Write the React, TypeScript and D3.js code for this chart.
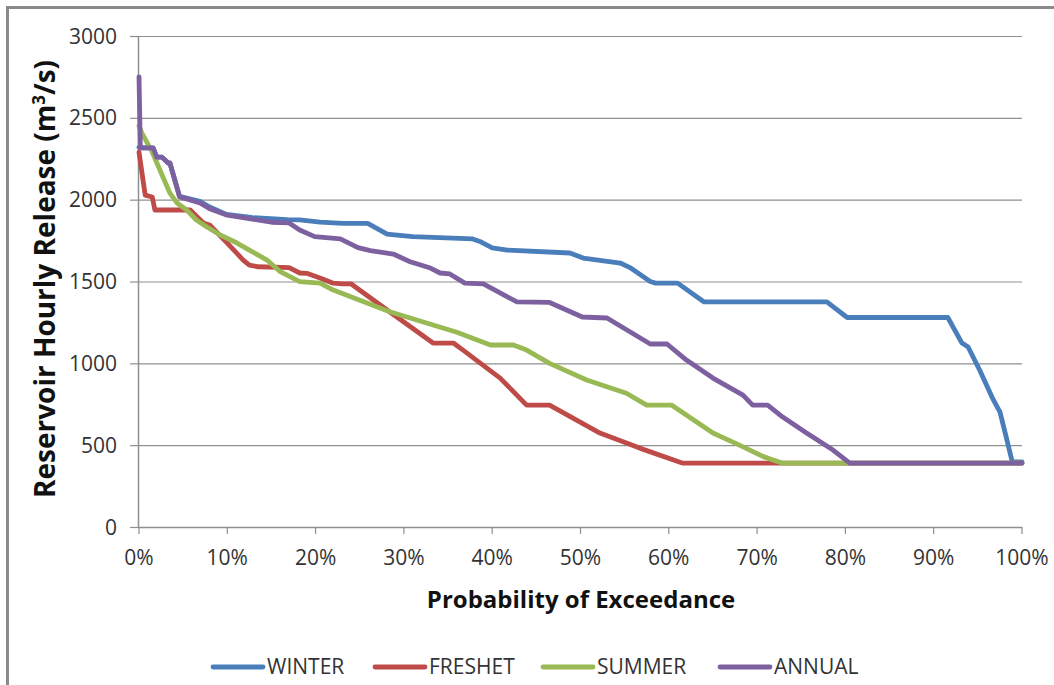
import React from "react";
import * as d3 from "d3";

const yTicks = [0, 500, 1000, 1500, 2000, 2500, 3000];
const xTicks = [0, 10, 20, 30, 40, 50, 60, 70, 80, 90, 100];

const winterP = [0, 0.2, 1.6, 2.0, 2.6, 3.3, 3.5, 4.6, 5.4, 6.9, 8.0, 9.9, 12.9, 16.8, 18.2, 20.5, 23.1, 25.9, 28.1, 31, 37.8, 38.6, 40, 41.7, 48.8, 50.3, 54.5, 55.6, 57.9, 58.5, 61, 64, 77.9, 80.2, 91.6, 93.2, 93.9, 95.2, 96.6, 97.2, 97.5, 98.1, 98.9, 100];
const winterV = [2320, 2316, 2316, 2260, 2260, 2224, 2224, 2020, 2010, 1990, 1955, 1910, 1890, 1878, 1876, 1863, 1855, 1855, 1790, 1774, 1760, 1745, 1705, 1692, 1674, 1643, 1613, 1585, 1500, 1490, 1490, 1375, 1375, 1280, 1280, 1124, 1100, 959, 794, 733, 703, 574, 397, 397];

const freshetP = [0, 0.7, 1.5, 1.8, 5.8, 6.6, 7.3, 8.0, 10, 11.8, 12.5, 13.5, 17, 18.2, 19, 20.5, 22, 23.1, 24, 28.1, 33.3, 35.6, 36.7, 40.9, 43.9, 46.5, 52.2, 56.7, 61.6, 100];
const freshetV = [2290, 2028, 2016, 1937, 1937, 1894, 1857, 1845, 1735, 1631, 1600, 1590, 1585, 1552, 1550, 1521, 1490, 1486, 1486, 1326, 1124, 1124, 1081, 910, 745, 745, 574, 482, 390, 390];

const summerP = [0, 0.3, 1.5, 2.7, 3.5, 4.3, 5.4, 6.5, 7.7, 9.2, 11.1, 12.9, 14.5, 16, 18.2, 20.5, 22, 28.4, 33.3, 36, 39.8, 42.4, 43.9, 46.5, 50.7, 55.2, 57.5, 60.3, 65, 68, 70.7, 72.9, 100];
const summerV = [2450, 2410, 2290, 2140, 2040, 1980, 1937, 1876, 1833, 1784, 1735, 1680, 1631, 1560, 1499, 1490, 1448, 1315, 1234, 1190, 1112, 1112, 1081, 1000, 898, 817, 745, 745, 574, 500, 430, 390, 390];

const annualP = [0, 0.15, 1.6, 2.0, 2.6, 3.3, 3.5, 4.6, 5.4, 6.9, 8.0, 10, 13, 15, 17, 18.2, 19.9, 22.8, 24.8, 26.2, 28.8, 30.7, 33, 34.1, 35.2, 36.9, 39, 42.8, 46.5, 50.2, 53, 57.9, 59.8, 62, 65, 68.4, 69.5, 71.2, 72.9, 75.6, 78.6, 80.5, 100];
const annualV = [2750, 2316, 2316, 2260, 2260, 2224, 2224, 2016, 2005, 1980, 1945, 1905, 1880, 1862, 1858, 1815, 1774, 1760, 1707, 1689, 1668, 1621, 1582, 1552, 1546, 1490, 1486, 1375, 1372, 1283, 1277, 1118, 1118, 1020, 910, 806, 745, 745, 672, 574, 470, 390, 390];

const seriesNames = ["WINTER", "FRESHET", "SUMMER", "ANNUAL"];
const seriesColors = ["#4a7ebb", "#be4b48", "#98b954", "#7d60a0"];
const seriesP = [winterP, freshetP, summerP, annualP];
const seriesV = [winterV, freshetV, summerV, annualV];
const legendX = [213, 375, 543, 720];

const FONT = "'Open Sans', 'DejaVu Sans', sans-serif";

export default function App() {
  const W = 1054, H = 685;
  const x = d3.scaleLinear().domain([0, 100]).range([139, 1022]);
  const y = d3.scaleLinear().domain([0, 3000]).range([527, 36]);
  const line = d3.line<[number, number]>().x(d => x(d[0])).y(d => y(d[1]));

  return (
    <svg width={W} height={H} style={{ position: "absolute", left: 0, top: 0, background: "#fff" }}>
      <rect x={7.5} y={7.5} width={1200} height={1200} fill="#fff" stroke="#8a8a8a" strokeWidth={3} />
      {yTicks.filter(t => t > 0).map(t => (
        <line key={"g" + t} x1={x(0)} x2={x(100)} y1={y(t) + 0.5} y2={y(t) + 0.5} stroke="#8f8f8f" strokeWidth={1.2} />
      ))}
      <line x1={x(0) - 0.5} x2={x(0) - 0.5} y1={y(3000)} y2={y(0)} stroke="#8f8f8f" strokeWidth={1.5} />
      <line x1={x(0)} x2={x(100)} y1={y(0) + 0.5} y2={y(0) + 0.5} stroke="#8f8f8f" strokeWidth={1.5} />
      {yTicks.map(t => (
        <line key={"yt" + t} x1={x(0) - 9} x2={x(0)} y1={y(t) + 0.5} y2={y(t) + 0.5} stroke="#8f8f8f" strokeWidth={1.2} />
      ))}
      {xTicks.map(t => (
        <line key={"xt" + t} x1={x(t)} x2={x(t)} y1={y(0)} y2={y(0) + 7} stroke="#8f8f8f" strokeWidth={1.2} />
      ))}
      {yTicks.map(t => (
        <text key={"yl" + t} x={117} y={y(t)} dy="0.36em" textAnchor="end" fontFamily={FONT} fontSize={21} fill="#333">{t}</text>
      ))}
      {xTicks.map(t => (
        <text key={"xl" + t} x={x(t)} y={565} textAnchor="middle" fontFamily={FONT} fontSize={21} fill="#333">{t + "%"}</text>
      ))}
      {seriesNames.map((n, i) => (
        <path key={n} d={line(seriesP[i].map((p, j) => [p, seriesV[i][j]] as [number, number])) || ""} fill="none" stroke={seriesColors[i]} strokeWidth={4.8} strokeLinejoin="round" strokeLinecap="round" />
      ))}
      <text x={581} y={608} textAnchor="middle" fontFamily={FONT} fontSize={24} fontWeight="bold" fill="#111">Probability of Exceedance</text>
      <text transform="translate(55,279) rotate(-90)" textAnchor="middle" fontFamily={FONT} fontSize={28} fontWeight="bold" fill="#111">
        Reservoir Hourly Release (m<tspan dy="-10" fontSize={17}>3</tspan><tspan dy="10">/s)</tspan>
      </text>
      {seriesNames.map((n, i) => (
        <g key={"lg" + n}>
          <line x1={legendX[i]} x2={legendX[i] + 50} y1={667} y2={667} stroke={seriesColors[i]} strokeWidth={4.8} strokeLinecap="round" />
          <text x={legendX[i] + 54} y={674} fontFamily={FONT} fontSize={21} fill="#333">{n}</text>
        </g>
      ))}
    </svg>
  );
}
